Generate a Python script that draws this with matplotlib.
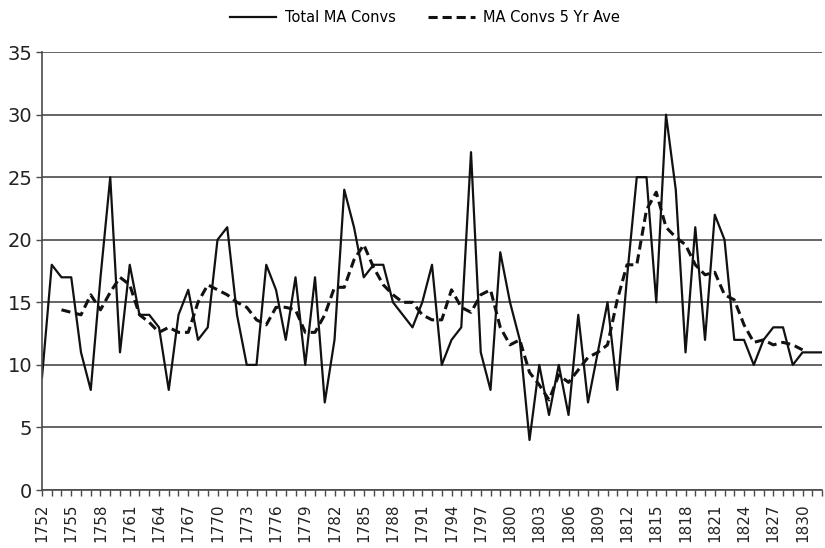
import numpy as np
import matplotlib
matplotlib.use('Agg')
import matplotlib.pyplot as plt
from matplotlib.ticker import MultipleLocator

# yearly values, 1752-1832
years = np.arange(1752, 1833)
total_convs = [9, 18, 17, 17, 11, 8, 17, 25, 11, 18,
               14, 14, 13, 8, 14, 16, 12, 13, 20, 21,
               14, 10, 10, 18, 16, 12, 17, 10, 17, 7,
               12, 24, 21, 17, 18, 18, 15, 14, 13, 15,
               18, 10, 12, 13, 27, 11, 8, 19, 15, 12,
               4, 10, 6, 10, 6, 14, 7, 11, 15, 8,
               17, 25, 25, 15, 30, 24, 11, 21, 12, 22,
               20, 12, 12, 10, 12, 13, 13, 10, 11, 11,
               11]
# 5 yr average, missing at both ends
ave_5yr = [np.nan, np.nan,
           14.4, 14.2, 14.0, 15.6, 14.4, 15.8, 17.0, 16.4,
           14.0, 13.4, 12.6, 13.0, 12.6, 12.6, 15.0, 16.4, 16.0, 15.6,
           15.0, 14.6, 13.6, 13.2, 14.6, 14.6, 14.4, 12.6, 12.6, 14.0,
           16.2, 16.2, 18.4, 19.6, 17.8, 16.4, 15.6, 15.0, 15.0, 14.0,
           13.6, 13.6, 16.0, 14.6, 14.2, 15.6, 16.0, 13.0, 11.6, 12.0,
           9.4, 8.4, 7.2, 9.2, 8.6, 9.6, 10.6, 11.0, 11.6, 15.2,
           18.0, 18.0, 22.4, 23.8, 21.0, 20.2, 19.6, 18.0, 17.2, 17.4,
           15.6, 15.2, 13.2, 11.8, 12.0, 11.6, 11.8, 11.6, 11.2,
           np.nan, np.nan]

fig = plt.figure(figsize=(8.25, 5.48), dpi=100)
ax = fig.add_axes([0.0509, 0.1058, 0.9455, 0.7992])

grid_col = '#4a4a4a'
ax.plot(years, total_convs, color='#111111', lw=1.6, label='Total MA Convs')
ax.plot(years, ave_5yr, color='#111111', lw=2.2, linestyle=(0, (3, 1.6)),
        label='MA Convs 5 Yr Ave')

ax.set_xlim(1752, 1832)
ax.set_ylim(0, 35)
ax.yaxis.set_major_locator(MultipleLocator(5))
ax.xaxis.set_major_locator(MultipleLocator(3))
ax.xaxis.set_minor_locator(MultipleLocator(1))
ax.grid(axis='y', color=grid_col, lw=1.2)
ax.set_axisbelow(True)

for s in ['top', 'right']:
    ax.spines[s].set_visible(False)
for s in ['left', 'bottom']:
    ax.spines[s].set_color(grid_col)
    ax.spines[s].set_linewidth(1.2)

ax.tick_params(axis='y', length=4, width=1, color=grid_col, labelsize=14, pad=3,
               labelcolor='#222222')
ax.tick_params(axis='x', which='both', length=4.5, width=1, color=grid_col,
               labelsize=11, pad=5, labelrotation=90, labelcolor='#222222')

fig.legend(loc='upper center', bbox_to_anchor=(0.515, 1.005), ncol=2,
           frameon=False, fontsize=10.5, handlelength=3.2, columnspacing=2.2,
           handletextpad=0.6)

fig.savefig('out.png', dpi=100)
